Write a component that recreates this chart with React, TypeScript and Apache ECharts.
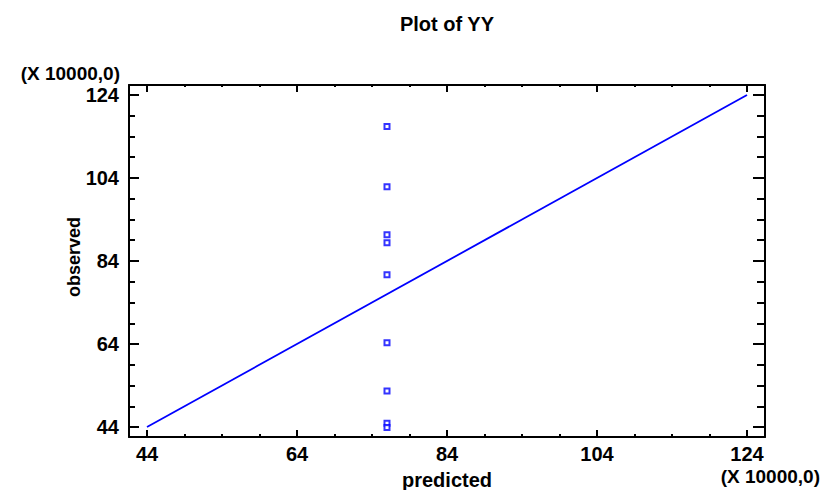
import React, { useEffect, useRef } from "react";
import * as echarts from "echarts";

const TITLE = "Plot of YY";
const X_NAME = "predicted";
const Y_NAME = "observed";
const SCALE_NOTE = "(X 10000,0)";
const MAJOR_TICKS = [44, 64, 84, 104, 124];
const MINOR_TICKS = [49, 54, 59, 69, 74, 79, 89, 94, 99, 109, 114, 119];
const AXIS_MIN = 41.6;
const AXIS_MAX = 126.4;
const PREDICTED = [76, 76, 76, 76, 76, 76, 76, 76, 76];
const OBSERVED = [116.4, 101.9, 90.3, 88.4, 80.7, 64.3, 52.7, 44.9, 43.9];
const LINE_X = [44, 124];
const LINE_Y = [44, 124];

const FONT = "'Liberation Sans', Arial, sans-serif";
const BLUE = "#0000ff";

export default function App() {
  const ref = useRef<HTMLDivElement>(null);
  useEffect(() => {
    if (!ref.current) return;
    const chart = echarts.init(ref.current, undefined, { renderer: "svg" });

    const labelStyle = {
      fontFamily: FONT,
      fontSize: 20,
      fontWeight: "bold" as const,
      color: "#000",
    };

    const mkX = (position: "bottom" | "top", ticks: number[], len: number, showLabel: boolean, showLine: boolean) => ({
      type: "value" as const,
      position,
      min: AXIS_MIN,
      max: AXIS_MAX,
      offset: 0,
      axisLine: { show: showLine, onZero: false, lineStyle: { color: "#000", width: 2 } },
      axisTick: { show: true, inside: true, length: len, customValues: ticks, lineStyle: { color: "#000", width: 2 } },
      axisLabel: showLabel
        ? { show: true, customValues: MAJOR_TICKS, margin: 7, ...labelStyle }
        : { show: false },
      splitLine: { show: false },
    });
    const mkY = (position: "left" | "right", ticks: number[], len: number, showLabel: boolean, showLine: boolean) => ({
      type: "value" as const,
      position,
      min: AXIS_MIN,
      max: AXIS_MAX,
      offset: 0,
      axisLine: { show: showLine, onZero: false, lineStyle: { color: "#000", width: 2 } },
      axisTick: { show: true, inside: true, length: len, customValues: ticks, lineStyle: { color: "#000", width: 2 } },
      axisLabel: showLabel
        ? { show: true, customValues: MAJOR_TICKS, margin: 10, ...labelStyle }
        : { show: false },
      splitLine: { show: false },
    });

    chart.setOption({
      animation: false,
      backgroundColor: "#fff",
      grid: { left: 129, right: 57, top: 85, bottom: 53, containLabel: false },
      xAxis: [
        mkX("bottom", MAJOR_TICKS, 7, true, true),
        mkX("bottom", MINOR_TICKS, 3, false, false),
        mkX("top", MAJOR_TICKS, 7, false, true),
        mkX("top", MINOR_TICKS, 2, false, false),
      ],
      yAxis: [
        mkY("left", MAJOR_TICKS, 10, true, true),
        mkY("left", MINOR_TICKS, 6, false, false),
        mkY("right", MAJOR_TICKS, 12, false, true),
        mkY("right", MINOR_TICKS, 8, false, false),
      ],
      series: [
        {
          type: "line",
          xAxisIndex: 0,
          yAxisIndex: 0,
          data: LINE_X.map((x, i) => [x, LINE_Y[i]]),
          showSymbol: false,
          symbol: "none",
          lineStyle: { color: BLUE, width: 1.8 },
          z: 2,
        },
        {
          type: "scatter",
          xAxisIndex: 0,
          yAxisIndex: 0,
          data: PREDICTED.map((x, i) => [x, OBSERVED[i]]),
          symbol: "emptyRect",
          symbolSize: 5,
          itemStyle: { color: BLUE, borderColor: BLUE, borderWidth: 1.6 },
          z: 3,
        },
      ],
      graphic: [
        {
          type: "text",
          style: { text: TITLE, x: 447, y: 24, textAlign: "center", textVerticalAlign: "middle", font: `bold 20px ${FONT}`, fill: "#000" },
        },
        {
          type: "text",
          style: { text: X_NAME, x: 447, y: 480, textAlign: "center", textVerticalAlign: "middle", font: `bold 20px ${FONT}`, fill: "#000" },
        },
        {
          type: "text",
          x: 74,
          y: 257,
          rotation: Math.PI / 2,
          style: { text: Y_NAME, x: 0, y: 0, textAlign: "center", textVerticalAlign: "middle", font: `bold 18px ${FONT}`, fill: "#000" },
        },
        {
          type: "text",
          style: { text: SCALE_NOTE, x: 120, y: 73, textAlign: "right", textVerticalAlign: "middle", font: `bold 19px ${FONT}`, fill: "#000" },
        },
        {
          type: "text",
          style: { text: SCALE_NOTE, x: 820, y: 476, textAlign: "right", textVerticalAlign: "middle", font: `bold 19px ${FONT}`, fill: "#000" },
        },
      ],
    });
    return () => chart.dispose();
  }, []);
  return <div ref={ref} style={{ width: 822, height: 490, position: "absolute", left: 0, top: 0 }} />;
}
